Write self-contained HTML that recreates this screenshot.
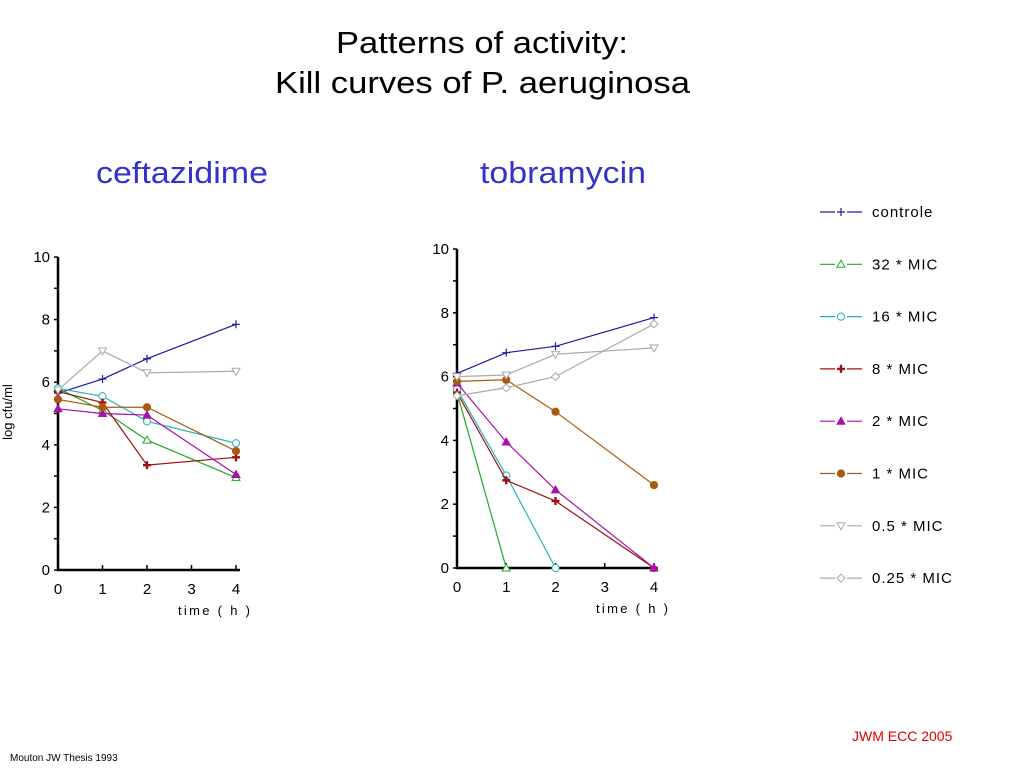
<!DOCTYPE html>
<html><head><meta charset="utf-8"><style>
body{margin:0;background:#fff;width:1024px;height:768px;overflow:hidden;font-family:"Liberation Sans",sans-serif}
</style></head><body>
<svg id="s" width="1024" height="768" xmlns="http://www.w3.org/2000/svg" font-family="Liberation Sans, sans-serif">
<text x="336" y="53" font-size="31" textLength="292" lengthAdjust="spacingAndGlyphs">Patterns of activity:</text>
<text x="275" y="93" font-size="31" textLength="415" lengthAdjust="spacingAndGlyphs">Kill curves of  P. aeruginosa</text>
<text x="96" y="183" font-size="31" fill="#3333cc" textLength="172" lengthAdjust="spacingAndGlyphs">ceftazidime</text>
<text x="480" y="183" font-size="31" fill="#3333cc" textLength="166" lengthAdjust="spacingAndGlyphs">tobramycin</text>
<text x="10" y="761" font-size="10">Mouton JW Thesis 1993</text>
<text x="852" y="741" font-size="14" fill="#dd0000">JWM ECC 2005</text>
<g id="g"></g>
</svg>
<script>
const times=[0,1,2,4];
const series=["controle","32 * MIC","16 * MIC","8 * MIC","2 * MIC","1 * MIC","0.5 * MIC","0.25 * MIC"];
const colors=["#1a1aa0","#22aa22","#22b5b5","#a01010","#aa10aa","#aa5a10","#aaaaaa","#aaaaaa"];
const markers=["plus","tri","circ","bplus","ftri","fcirc","dtri","diam"];
const cefControle=[5.65,6.1,6.75,7.85];
const cef32=[5.8,5.1,4.15,2.95];
const cef16=[5.8,5.55,4.75,4.05];
const cef8=[5.7,5.35,3.35,3.6];
const cef2=[5.15,5.0,4.95,3.05];
const cef1=[5.45,5.2,5.2,3.8];
const cef05=[5.75,7.0,6.3,6.35];
const cef025=[null,null,null,null];
const tobControle=[6.1,6.75,6.95,7.85];
const tob32=[5.5,0,null,null];
const tob16=[5.6,2.9,0,null];
const tob8=[5.5,2.75,2.1,0];
const tob2=[5.8,3.95,2.45,0];
const tob1=[5.85,5.9,4.9,2.6];
const tob05=[6.0,6.05,6.7,6.9];
const tob025=[5.4,5.65,6.0,7.65];
const yTicks=[0,2,4,6,8,10];
const xTickLabels=["0","1","2","3","4"];
const cefData=[cefControle,cef32,cef16,cef8,cef2,cef1,cef05,cef025];
const tobData=[tobControle,tob32,tob16,tob8,tob2,tob1,tob05,tob025];
const NS="http://www.w3.org/2000/svg";
const G=document.getElementById('g');
function mk(tag,a,p){const e=document.createElementNS(NS,tag);for(const k in a)e.setAttribute(k,a[k]);(p||G).appendChild(e);return e;}
function marker(type,x,y,c,p){
 const g=mk('g',{},p);
 if(type==='plus'){mk('path',{d:`M${x-4} ${y}H${x+4}M${x} ${y-4}V${y+4}`,stroke:c,'stroke-width':1.2},g);}
 else if(type==='bplus'){mk('path',{d:`M${x-4} ${y}H${x+4}M${x} ${y-4}V${y+4}`,stroke:c,'stroke-width':2.4},g);}
 else if(type==='tri'||type==='ftri'){mk('path',{d:`M${x} ${y-4}L${x+4} ${y+3}L${x-4} ${y+3}Z`,stroke:c,fill:type==='ftri'?c:'#fff'},g);}
 else if(type==='dtri'){mk('path',{d:`M${x} ${y+4}L${x+4} ${y-3}L${x-4} ${y-3}Z`,stroke:c,fill:'#fff'},g);}
 else if(type==='circ'||type==='fcirc'){mk('circle',{cx:x,cy:y,r:3.6,stroke:c,fill:type==='fcirc'?c:'#fff'},g);}
 else {mk('path',{d:`M${x} ${y-4}L${x+4} ${y}L${x} ${y+4}L${x-4} ${y}Z`,stroke:c,fill:'#fff'},g);}
 return g;
}
function chart(name,x0,x4,y0,y10,data){
 const X=t=>x0+(x4-x0)*t/4, Y=v=>y0+(y10-y0)*v/10;
 const cg=mk('g',{});
 
 
 const ax=mk('path',{d:`M${x0} ${Y(10)}V${y0}H${x4+4}`,stroke:'#000','stroke-width':2.5,fill:'none'},cg);
 
 
 for(let v=0;v<=10;v++){mk('path',{d:`M${x0} ${Y(v)}H${x0-4}`,stroke:'#000','stroke-width':1.5},cg);}
 yTicks.forEach(v=>{const t=mk('text',{x:x0-8,y:Y(v)+5,'font-size':15,'text-anchor':'end'},cg);t.textContent=v;
  
  });
 xTickLabels.forEach((l,i)=>{mk('path',{d:`M${X(i)} ${y0}V${y0-5}`,stroke:'#000','stroke-width':1.5},cg);
  const t=mk('text',{x:X(i),y:y0+24,'font-size':15,'text-anchor':'middle'},cg);t.textContent=l;
  
  });
 const xt=mk('text',{x:x4-58,y:y0+45,'font-size':13,textLength:72,lengthAdjust:'spacing'},cg);xt.textContent='time ( h )';
 
 
 data.forEach((d,si)=>{
  const pts=[];d.forEach((v,i)=>{if(v!==null)pts.push([X(times[i]),Y(v)]);});
  if(!pts.length)return;
  const sg=mk('g',{},cg);
  
  
  mk('polyline',{points:pts.map(p=>p.join(',')).join(' '),fill:'none',stroke:colors[si],'stroke-width':1.2},sg);
  pts.forEach(p=>{const m=marker(markers[si],p[0],p[1],colors[si],sg);
   
   });
 });
}
chart('ceftazidime',58,236,570,257,cefData);
chart('tobramycin',457,654,568,249,tobData);
const yt=mk('text',{x:0,y:0,'font-size':13,'text-anchor':'middle',transform:'translate(12,412) rotate(-90)'});
yt.textContent='log cfu/ml';


series.forEach((s,i)=>{
 const y=212+i*52.3;
 const lg=mk('g',{});
 
 
 mk('path',{d:`M820 ${y}H862`,stroke:colors[i],'stroke-width':1.2},lg);
 mk('rect',{x:835,y:y-5,width:12,height:10,fill:'#fff'},lg);
 marker(markers[i],841,y,colors[i],lg);
 const t=mk('text',{x:872,y:y+5,'font-size':15,'letter-spacing':'1'},lg);t.textContent=s.replace('*',' * ').replace(/  +/g,'  ');
});
</script>
</body></html>
